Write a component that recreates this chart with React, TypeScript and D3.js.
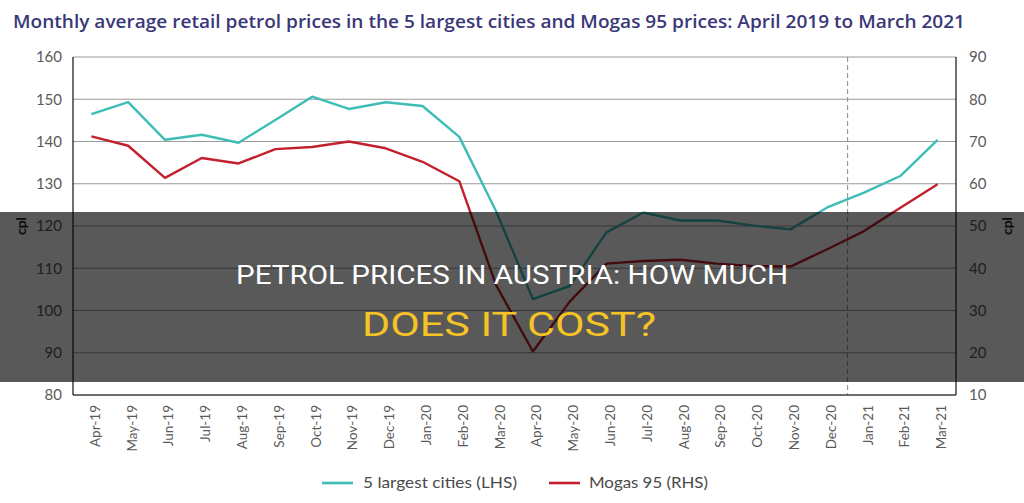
import React from "react";
import * as d3 from "d3";

// Months on the category axis
const months = [
  "Apr-19", "May-19", "Jun-19", "Jul-19", "Aug-19", "Sep-19", "Oct-19", "Nov-19",
  "Dec-19", "Jan-20", "Feb-20", "Mar-20", "Apr-20", "May-20", "Jun-20", "Jul-20",
  "Aug-20", "Sep-20", "Oct-20", "Nov-20", "Dec-20", "Jan-21", "Feb-21", "Mar-21",
];

// Monthly average retail petrol price, 5 largest cities (cpl, left axis)
const citiesPrice = [
  146.5, 149.3, 140.4, 141.6, 139.7, 145.1, 150.6, 147.7, 149.3, 148.4, 141.1, 123.5,
  102.7, 105.8, 118.5, 123.2, 121.3, 121.3, 120.1, 119.2, 124.4, 127.9, 131.9, 140.4,
];

// Mogas 95 price (cpl, right axis)
const mogasPrice = [
  71.2, 69.0, 61.4, 66.1, 64.8, 68.2, 68.7, 70.0, 68.4, 65.2, 60.6, 36.0,
  20.3, 32.1, 41.1, 41.7, 42.0, 41.1, 40.5, 40.4, 44.5, 48.8, 54.4, 59.9,
];

const leftTicks = [80, 90, 100, 110, 120, 130, 140, 150, 160];
const rightTicks = [10, 20, 30, 40, 50, 60, 70, 80, 90];

const W = 1024;
const H = 503;
const plot = { left: 73, right: 956, top: 57, bottom: 395 };

const TEAL = "#3dbdb6";
const RED = "#c2202d";

export default function App() {
  const x = d3
    .scalePoint<string>()
    .domain(months)
    .range([plot.left, plot.right])
    .padding(0.5);
  const yL = d3.scaleLinear().domain([80, 160]).range([plot.bottom, plot.top]);
  const yR = d3.scaleLinear().domain([10, 90]).range([plot.bottom, plot.top]);

  const lineL = d3
    .line<number>()
    .x((_, i) => x(months[i]) as number)
    .y((d) => yL(d));
  const lineR = d3
    .line<number>()
    .x((_, i) => x(months[i]) as number)
    .y((d) => yR(d));

  const step = x.step();
  const yearBreak = (x("Dec-20") as number) + step / 2 + 2;

  const labelFont = "Lato, 'Open Sans', sans-serif";

  return (
    <svg
      width={W}
      height={H}
      style={{ position: "absolute", left: 0, top: 0, background: "#fff" }}
      fontFamily={labelFont}
    >
      <rect x={0} y={0} width={W} height={H} fill="#fff" />

      {/* Title */}
      <text
        x={13}
        y={28}
        fontSize={17.5}
        fontWeight={600}
        fill="#3a3878"
        fontFamily="'Open Sans', sans-serif"
        textLength={952}
        lengthAdjust="spacingAndGlyphs"
      >
        Monthly average retail petrol prices in the 5 largest cities and Mogas 95 prices: April 2019 to March 2021
      </text>

      {/* Gridlines */}
      {leftTicks.map((t) => (
        <line
          key={t}
          x1={plot.left}
          x2={plot.right}
          y1={yL(t)}
          y2={yL(t)}
          stroke="#9a9a9a"
          strokeWidth={1}
        />
      ))}

      {/* Year boundary */}
      <line
        x1={yearBreak}
        x2={yearBreak}
        y1={plot.top}
        y2={plot.bottom}
        stroke="#8a8a8a"
        strokeWidth={1}
        strokeDasharray="5,3"
      />

      {/* Frame */}
      <line x1={plot.left} x2={plot.left} y1={plot.top} y2={plot.bottom} stroke="#111" strokeWidth={1.2} />
      <line x1={plot.right} x2={plot.right} y1={plot.top} y2={plot.bottom} stroke="#111" strokeWidth={1.2} />
      <line x1={plot.left} x2={plot.right} y1={plot.bottom} y2={plot.bottom} stroke="#111" strokeWidth={1.2} />

      {/* Left axis labels */}
      {leftTicks.map((t) => (
        <text
          key={t}
          x={62}
          y={yL(t)}
          dy="0.35em"
          textAnchor="end"
          fontSize={15}
          fill="#5a5a5a"
        >
          {t}
        </text>
      ))}
      {/* Right axis labels */}
      {rightTicks.map((t) => (
        <text key={t} x={969} y={yR(t)} dy="0.35em" textAnchor="start" fontSize={15} fill="#5a5a5a">
          {t}
        </text>
      ))}

      {/* Axis titles */}
      <text
        transform={`translate(20,${(plot.top + plot.bottom) / 2}) rotate(-90)`}
        textAnchor="middle"
        dominantBaseline="central"
        fontSize={14}
        fontWeight={700}
        fill="#222"
      >
        cpl
      </text>
      <text
        transform={`translate(1006,${(plot.top + plot.bottom) / 2}) rotate(-90)`}
        textAnchor="middle"
        dominantBaseline="central"
        fontSize={14}
        fontWeight={700}
        fill="#222"
      >
        cpl
      </text>

      {/* Month labels */}
      {months.map((m) => (
        <text
          key={m}
          transform={`translate(${(x(m) as number) + 3.5},405) rotate(-90)`}
          textAnchor="end"
          dominantBaseline="central"
          fontSize={13.5}
          fill="#5a5a5a"
        >
          {m}
        </text>
      ))}

      {/* Series */}
      <path d={lineL(citiesPrice) ?? ""} fill="none" stroke={TEAL} strokeWidth={2.4} strokeLinejoin="round" />
      <path d={lineR(mogasPrice) ?? ""} fill="none" stroke={RED} strokeWidth={2.4} strokeLinejoin="round" />

      {/* Legend */}
      <line x1={322} x2={353} y1={483} y2={483} stroke={TEAL} strokeWidth={2.6} />
      <text x={363} y={483} dy="0.35em" fontSize={15} fill="#4a4a4a" textLength={154} lengthAdjust="spacingAndGlyphs">
        5 largest cities (LHS)
      </text>
      <line x1={549} x2={580} y1={483} y2={483} stroke={RED} strokeWidth={2.6} />
      <text x={589} y={483} dy="0.35em" fontSize={15} fill="#4a4a4a" textLength={119} lengthAdjust="spacingAndGlyphs">
        Mogas 95 (RHS)
      </text>

      {/* Headline band */}
      <rect x={0} y={212} width={W} height={170} fill="rgba(0,0,0,0.65)" />
      <text
        x={W / 2}
        y={284}
        textAnchor="middle"
        fontSize={25}
        fill="#ffffff"
        fontFamily="Roboto, sans-serif"
        textLength={552}
        lengthAdjust="spacingAndGlyphs"
      >
        PETROL PRICES IN AUSTRIA: HOW MUCH
      </text>
      <text
        x={509}
        y={336}
        textAnchor="middle"
        fontSize={33}
        fill="#f5c325"
        fontFamily="Roboto, sans-serif"
        textLength={294}
        lengthAdjust="spacingAndGlyphs"
      >
        DOES IT COST?
      </text>
    </svg>
  );
}
